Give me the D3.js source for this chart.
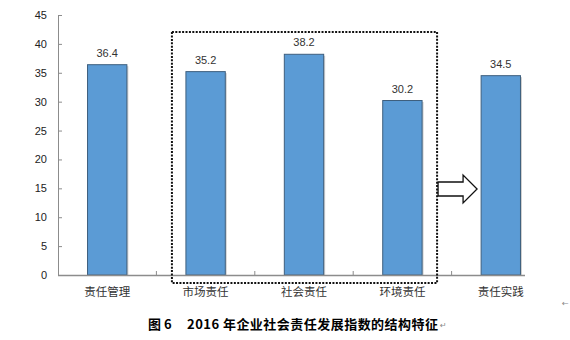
<!DOCTYPE html>
<html><head><meta charset="utf-8">
<script src="https://cdn.jsdelivr.net/npm/d3@7"></script>
<style>body{margin:0;background:#fff}svg{display:block}</style>
</head><body>
<svg id="c" width="570" height="340"></svg>
<script>
const categories = ["责任管理","市场责任","社会责任","环境责任","责任实践"];
const values = [36.4, 35.2, 38.2, 30.2, 34.5];
const yTicks = [0,5,10,15,20,25,30,35,40,45];
const titleNum = "图 6";
const titleText = "2016 年企业社会责任发展指数的结构特征";

const svg = d3.select("#c");
const x = d3.scaleBand().domain(categories).range([58, 550]).paddingInner(0.6).paddingOuter(0.3);
const y = d3.scaleLinear().domain([0,45]).range([275, 15]);
const axisColor = "#8c8c8c";

// y axis
const ya = svg.append("g").attr("transform","translate(58,0)")
  .call(d3.axisLeft(y).tickValues(yTicks).tickSizeInner(-4).tickSizeOuter(0).tickPadding(11));
ya.select(".domain").attr("stroke", axisColor);
ya.selectAll(".tick line").attr("stroke", axisColor);
ya.selectAll("text").attr("font-family","Liberation Sans, Arial, sans-serif").attr("font-size",11).attr("fill","#222");

// bars
svg.append("g").selectAll("rect.sh").data(values).join("rect")
  .attr("x",(d,i)=>x(categories[i])+1.5).attr("y",d=>y(d)+1.5)
  .attr("width",x.bandwidth()).attr("height",d=>y(0)-y(d)-1.5).attr("fill","#d0d0d0");
svg.append("g").selectAll("rect.b").data(values).join("rect")
  .attr("x",(d,i)=>x(categories[i])).attr("y",d=>y(d))
  .attr("width",x.bandwidth()).attr("height",d=>y(0)-y(d))
  .attr("fill","#5b9bd5").attr("stroke","#3e5f7e").attr("stroke-width",1);

// x axis
const xa = svg.append("g").attr("transform","translate(0,275)");
xa.append("line").attr("x1",58).attr("x2",525).attr("y1",0.5).attr("y2",0.5).attr("stroke",axisColor).attr("stroke-width",1.5);
const step = x.step();
xa.selectAll("line.t").data(categories.slice(1)).join("line")
  .attr("x1",d=>x(d)-x.paddingInner()*step/2).attr("x2",d=>x(d)-x.paddingInner()*step/2)
  .attr("y1",0).attr("y2",-4).attr("stroke",axisColor);
xa.selectAll("text").data(categories).join("text")
  .attr("x",d=>x(d)+x.bandwidth()/2).attr("y",21)
  .attr("text-anchor","middle").attr("font-family","Noto Sans CJK SC, sans-serif")
  .attr("font-size",11.5).attr("fill","#333").text(d=>d);

// value labels
svg.append("g").selectAll("text").data(values).join("text")
  .attr("x",(d,i)=>x(categories[i])+x.bandwidth()/2).attr("y",d=>y(d)-8)
  .attr("text-anchor","middle").attr("font-family","Liberation Sans, Arial, sans-serif")
  .attr("font-size",11).attr("fill","#333").text(d=>d.toFixed(1));

// dotted box around middle three categories
const bx0 = x(categories[1]) - 14, bx1 = x(categories[3]) + x.bandwidth() + 15;
svg.append("rect").attr("x",bx0).attr("y",32).attr("width",bx1-bx0).attr("height",251)
  .attr("fill","none").attr("stroke","#111").attr("stroke-width",2).attr("stroke-dasharray","2 1.4");

// arrow
const ax0 = bx1 + 1, cy = 189;
svg.append("path")
  .attr("d",`M${ax0},${cy-7} L${ax0+25},${cy-7} L${ax0+25},${cy-14} L${ax0+39},${cy} L${ax0+25},${cy+14} L${ax0+25},${cy+7} L${ax0},${cy+7} Z`)
  .attr("fill","#fff").attr("stroke","#111").attr("stroke-width",1.3);

// title
svg.append("text").attr("x",148).attr("y",329).attr("font-family","Noto Sans CJK SC, serif")
  .attr("font-weight","bold").attr("font-size",13).attr("fill","#000").text(titleNum);
svg.append("text").attr("x",187).attr("y",329).attr("font-family","Noto Sans CJK SC, serif")
  .attr("font-weight","bold").attr("font-size",13).attr("fill","#000").attr("textLength",251).text(titleText);
svg.append("text").attr("x",440).attr("y",328).attr("font-family","DejaVu Sans").attr("font-size",8).attr("fill","#888").text("↵");
svg.append("text").attr("x",562).attr("y",306).attr("font-family","DejaVu Sans").attr("font-size",8).attr("fill","#888").text("←");
</script>
</body></html>
